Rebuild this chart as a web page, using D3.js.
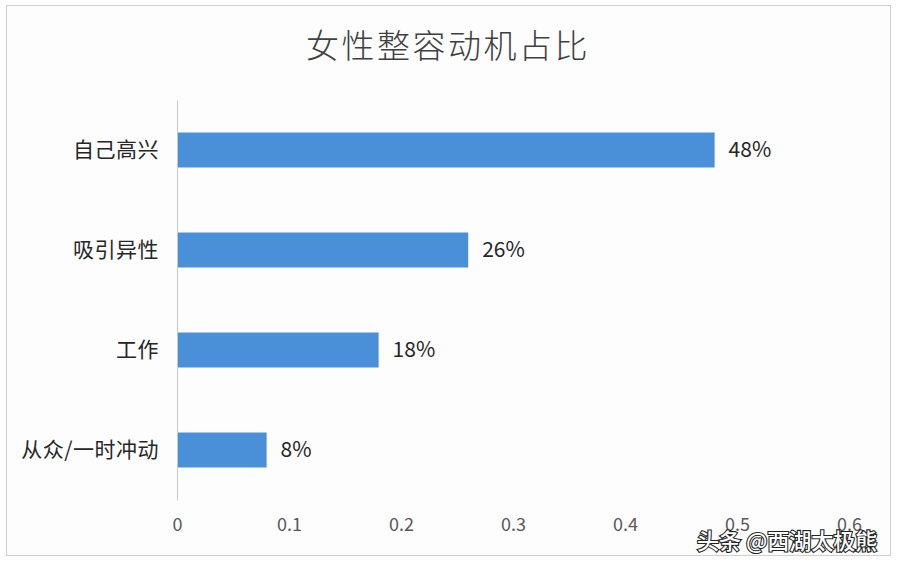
<!DOCTYPE html>
<html>
<head>
<meta charset="utf-8">
<script src="https://cdn.jsdelivr.net/npm/d3@7"></script>
<style>
    body { margin: 0; background: #fff; }
    svg { display: block; }
</style>
</head>
<body>
<div id="chart"></div>
<script>
    // Data
    const categories = ["自己高兴", "吸引异性", "工作", "从众/一时冲动"];
    const values = [0.48, 0.26, 0.18, 0.08];
    const valueLabels = ["48%", "26%", "18%", "8%"];
    const xTicks = [0, 0.1, 0.2, 0.3, 0.4, 0.5, 0.6];

    const svgWidth = 900;
    const svgHeight = 564;
    const margin = { top: 100, right: 51, bottom: 64, left: 177 };
    const width = svgWidth - margin.left - margin.right;
    const height = svgHeight - margin.top - margin.bottom;
    const font = "'Noto Sans CJK SC', 'Noto Sans', sans-serif";

    const svg = d3.select("#chart").append("svg")
        .attr("width", svgWidth).attr("height", svgHeight);

    // Chart frame
    svg.append("rect")
        .attr("x", 6.5).attr("y", 5.5)
        .attr("width", 884).attr("height", 550)
        .attr("fill", "#fdfdfd")
        .attr("stroke", "#cfcfcf");

    // Title
    svg.append("text")
        .attr("x", 448).attr("y", 58)
        .attr("text-anchor", "middle")
        .style("font-family", font)
        .style("font-weight", 300)
        .style("font-size", "33px")
        .style("letter-spacing", "2.5px")
        .style("fill", "#404040")
        .text("女性整容动机占比");

    const xScale = d3.scaleLinear().domain([0, 0.6]).range([0, width]);
    const yScale = d3.scaleBand().domain(categories).range([0, height])
        .paddingInner(0.65).paddingOuter(0.325);

    const g = svg.append("g").attr("transform", `translate(${margin.left},${margin.top})`);

    // Bars
    g.selectAll("rect.bar")
        .data(categories)
        .enter().append("rect")
        .attr("class", "bar")
        .attr("x", 0)
        .attr("y", d => yScale(d))
        .attr("width", (d, i) => xScale(values[i]))
        .attr("height", yScale.bandwidth())
        .attr("fill", "#4a90d8");

    // Value labels
    g.selectAll("text.val")
        .data(categories)
        .enter().append("text")
        .attr("class", "val")
        .attr("x", (d, i) => xScale(values[i]) + 14)
        .attr("y", d => yScale(d) + yScale.bandwidth() / 2)
        .attr("dy", "0.35em")
        .style("font-family", font)
        .style("font-size", "21px")
        .style("fill", "#262626")
        .text((d, i) => valueLabels[i]);

    // Y axis (line + category labels)
    const yAxis = g.append("g")
        .call(d3.axisLeft(yScale).tickSize(0).tickPadding(18));
    yAxis.select(".domain").attr("stroke", "#c8c8c8");
    yAxis.selectAll("text")
        .style("font-family", font)
        .style("font-size", "21px")
        .style("letter-spacing", "0.5px")
        .style("fill", "#262626");

    // X axis (labels only)
    const xAxis = g.append("g")
        .attr("transform", `translate(0,${height})`)
        .call(d3.axisBottom(xScale).tickValues(xTicks).tickSize(0).tickPadding(18)
            .tickFormat(d => d === 0 ? "0" : d3.format(".1f")(d)));
    xAxis.select(".domain").remove();
    xAxis.selectAll("text")
        .style("font-family", font)
        .style("font-size", "18px")
        .style("fill", "#595959");

    // Watermark
    svg.append("text")
        .attr("x", 697).attr("y", 549)
        .style("font-family", font)
        .style("font-size", "22px")
        .style("font-weight", 500)
        .style("fill", "#ffffff")
        .style("stroke", "#222")
        .style("stroke-width", "2.2px")
        .style("paint-order", "stroke")
        .text("头条 @西湖太极熊");
</script>
</body>
</html>
